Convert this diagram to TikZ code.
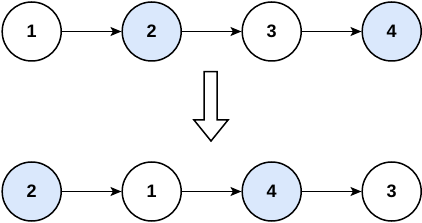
\documentclass[tikz,border=0pt]{standalone}
\usepackage{fontspec}
\setmainfont{Liberation Sans}
\usetikzlibrary{arrows.meta}
\definecolor{lblue}{HTML}{DAE8FC}
\tikzset{
  lnode/.style={circle, draw=black, line width=1.5pt, minimum size=59pt, inner sep=0pt, font=\fontsize{18}{20}\selectfont\bfseries, fill=white},
  hnode/.style={lnode, fill=lblue},
  link/.style={draw=black, line width=1.2pt, -{Stealth[length=11pt,width=9pt,inset=2.5pt]}},
  blockarrow/.style={draw=black, line width=1.5pt, fill=white, line join=miter}
}
\begin{document}
\begin{tikzpicture}[x=1pt,y=1pt]
\useasboundingbox (0,0) rectangle (422,222);
\node[lnode] (a1) at (31.7,190.5) {1};
\node[hnode] (a2) at (151.7,190.5) {2};
\node[lnode] (a3) at (271.7,190.5) {3};
\node[hnode] (a4) at (391.7,190.5) {4};
\draw[link] (a1) -- (a2);
\draw[link] (a2) -- (a3);
\draw[link] (a3) -- (a4);
\node[hnode] (b1) at (31.7,30.5) {2};
\node[lnode] (b2) at (151.7,30.5) {1};
\node[hnode] (b3) at (271.7,30.5) {4};
\node[lnode] (b4) at (391.7,30.5) {3};
\draw[link] (b1) -- (b2);
\draw[link] (b2) -- (b3);
\draw[link] (b3) -- (b4);
\draw[blockarrow] (204,150.3) -- (217,150.3) -- (217,102) -- (228,102) -- (211,81) -- (194,102) -- (204,102) -- cycle;
\end{tikzpicture}
\end{document}
